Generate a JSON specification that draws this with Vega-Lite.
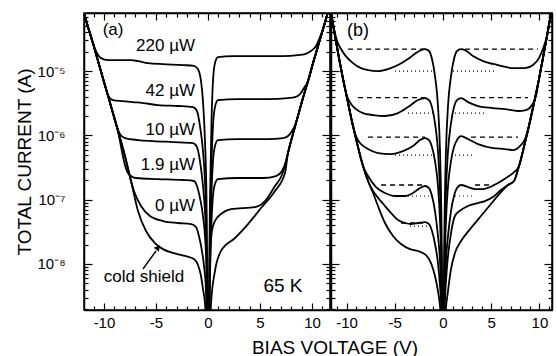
{
 "$schema": "https://vega.github.io/schema/vega-lite/v6.json",
 "background": "white",
 "padding": {"left": 14, "top": 8, "right": 2, "bottom": 2},
 "bounds": "flush",
 "spacing": 1,
 "config": {
  "font": "Liberation Sans",
  "view": {"stroke": "black", "strokeWidth": 1.5},
  "axis": {"grid": false, "domainColor": "black", "domainWidth": 1.5, "tickColor": "black", "tickWidth": 1.2, "labelColor": "black", "labelFont": "Liberation Sans", "labelFontSize": 15, "titleFont": "Liberation Sans", "titleColor": "black", "titleFontSize": 19, "titleFontWeight": "normal", "labelOverlap": false, "labelFlush": false},
  "text": {"font": "Liberation Sans", "color": "black"}
 },
 "datasets": {
  "curvesA": [
   {"s":"220","V":-12.12,"I":1.06e-4},{"s":"220","V":-11.92,"I":7.98e-5},{"s":"220","V":-11.06,"I":2.72e-5},{"s":"220","V":-10.67,"I":1.9e-5},{"s":"220","V":-10.29,"I":1.59e-5},{"s":"220","V":-9.62,"I":1.48e-5},{"s":"220","V":-8.65,"I":1.48e-5},{"s":"220","V":-7.4,"I":1.48e-5},{"s":"220","V":-6.73,"I":1.43e-5},{"s":"220","V":-5.77,"I":1.33e-5},{"s":"220","V":-4.33,"I":1.28e-5},{"s":"220","V":-2.4,"I":1.24e-5},{"s":"220","V":-1.35,"I":1.2e-5},{"s":"220","V":-0.96,"I":1.07e-5},{"s":"220","V":-0.67,"I":6.99e-6},{"s":"220","V":-0.48,"I":3.41e-6},{"s":"220","V":-0.29,"I":8.15e-7},{"s":"220","V":-0.14,"I":9.51e-8},{"s":"220","V":-0.05,"I":9e-10},{"s":"220","V":0.05,"I":9e-10},{"s":"220","V":0.19,"I":9.51e-8},{"s":"220","V":0.34,"I":1.67e-6},{"s":"220","V":0.48,"I":6.99e-6},{"s":"220","V":0.67,"I":1.33e-5},{"s":"220","V":0.96,"I":1.65e-5},{"s":"220","V":2.4,"I":1.71e-5},{"s":"220","V":4.81,"I":1.71e-5},{"s":"220","V":7.21,"I":1.71e-5},{"s":"220","V":8.65,"I":1.77e-5},{"s":"220","V":9.33,"I":1.84e-5},{"s":"220","V":9.9,"I":2.05e-5},{"s":"220","V":10.38,"I":2.45e-5},{"s":"220","V":10.77,"I":3.38e-5},{"s":"220","V":11.15,"I":5.01e-5},{"s":"220","V":11.63,"I":9.21e-5},{"s":"220","V":11.83,"I":1.1e-4},
   {"s":"42","V":-12.12,"I":1.06e-4},{"s":"42","V":-11.92,"I":7.98e-5},{"s":"42","V":-11.06,"I":2.72e-5},{"s":"42","V":-10.19,"I":8.66e-6},{"s":"42","V":-9.9,"I":5.84e-6},{"s":"42","V":-9.62,"I":4.23e-6},{"s":"42","V":-9.13,"I":3.54e-6},{"s":"42","V":-8.17,"I":3.41e-6},{"s":"42","V":-7.21,"I":3.29e-6},{"s":"42","V":-6.25,"I":3.18e-6},{"s":"42","V":-4.81,"I":2.96e-6},{"s":"42","V":-2.88,"I":2.86e-6},{"s":"42","V":-1.44,"I":2.75e-6},{"s":"42","V":-1.06,"I":2.39e-6},{"s":"42","V":-0.77,"I":1.395e-6},{"s":"42","V":-0.48,"I":5.7e-7},{"s":"42","V":-0.29,"I":1.95e-7},{"s":"42","V":-0.14,"I":3.25e-8},{"s":"42","V":-0.05,"I":6e-10},{"s":"42","V":0.05,"I":6e-10},{"s":"42","V":0.19,"I":3.25e-8},{"s":"42","V":0.34,"I":3.98e-7},{"s":"42","V":0.48,"I":1.395e-6},{"s":"42","V":0.67,"I":2.75e-6},{"s":"42","V":0.96,"I":3.54e-6},{"s":"42","V":2.88,"I":3.67e-6},{"s":"42","V":5.77,"I":3.67e-6},{"s":"42","V":7.69,"I":3.8e-6},{"s":"42","V":8.37,"I":3.94e-6},{"s":"42","V":8.85,"I":4.39e-6},{"s":"42","V":9.23,"I":5.44e-6},{"s":"42","V":9.62,"I":6.99e-6},{"s":"42","V":10.1,"I":1.33e-5},{"s":"42","V":10.58,"I":2.45e-5},{"s":"42","V":11.15,"I":5.01e-5},{"s":"42","V":11.63,"I":9.21e-5},{"s":"42","V":11.83,"I":1.1e-4},
   {"s":"10","V":-12.12,"I":1.06e-4},{"s":"10","V":-11.92,"I":7.98e-5},{"s":"10","V":-11.06,"I":2.72e-5},{"s":"10","V":-10.19,"I":8.66e-6},{"s":"10","V":-9.33,"I":2.86e-6},{"s":"10","V":-8.94,"I":1.67e-6},{"s":"10","V":-8.56,"I":1.125e-6},{"s":"10","V":-7.98,"I":9.08e-7},{"s":"10","V":-6.73,"I":8.45e-7},{"s":"10","V":-5.29,"I":8.15e-7},{"s":"10","V":-3.37,"I":7.87e-7},{"s":"10","V":-1.44,"I":7.59e-7},{"s":"10","V":-1.06,"I":6.58e-7},{"s":"10","V":-0.77,"I":3.98e-7},{"s":"10","V":-0.48,"I":1.63e-7},{"s":"10","V":-0.29,"I":6.65e-8},{"s":"10","V":-0.14,"I":1.59e-8},{"s":"10","V":-0.05,"I":5e-10},{"s":"10","V":0.05,"I":5e-10},{"s":"10","V":0.19,"I":1.59e-8},{"s":"10","V":0.34,"I":1.36e-7},{"s":"10","V":0.48,"I":3.98e-7},{"s":"10","V":0.67,"I":6.82e-7},{"s":"10","V":0.96,"I":8.45e-7},{"s":"10","V":2.88,"I":8.76e-7},{"s":"10","V":5.77,"I":8.76e-7},{"s":"10","V":7.21,"I":9.08e-7},{"s":"10","V":7.69,"I":9.75e-7},{"s":"10","V":8.08,"I":1.17e-6},{"s":"10","V":8.37,"I":1.445e-6},{"s":"10","V":8.65,"I":2e-6},{"s":"10","V":9.13,"I":3.8e-6},{"s":"10","V":9.62,"I":6.99e-6},{"s":"10","V":10.1,"I":1.33e-5},{"s":"10","V":10.58,"I":2.45e-5},{"s":"10","V":11.15,"I":5.01e-5},{"s":"10","V":11.63,"I":9.21e-5},{"s":"10","V":11.83,"I":1.1e-4},
   {"s":"1.9","V":-12.12,"I":1.06e-4},{"s":"1.9","V":-11.92,"I":7.98e-5},{"s":"1.9","V":-11.06,"I":2.72e-5},{"s":"1.9","V":-10.19,"I":8.66e-6},{"s":"1.9","V":-9.33,"I":2.86e-6},{"s":"1.9","V":-8.65,"I":1.17e-6},{"s":"1.9","V":-8.37,"I":6.82e-7},{"s":"1.9","V":-8.08,"I":3.98e-7},{"s":"1.9","V":-7.69,"I":2.59e-7},{"s":"1.9","V":-6.92,"I":2.17e-7},{"s":"1.9","V":-4.81,"I":2.09e-7},{"s":"1.9","V":-2.4,"I":2.02e-7},{"s":"1.9","V":-1.35,"I":1.95e-7},{"s":"1.9","V":-1.06,"I":1.63e-7},{"s":"1.9","V":-0.77,"I":1.06e-7},{"s":"1.9","V":-0.48,"I":5.56e-8},{"s":"1.9","V":-0.29,"I":2.72e-8},{"s":"1.9","V":-0.14,"I":7.75e-9},{"s":"1.9","V":-0.05,"I":5e-10},{"s":"1.9","V":0.05,"I":5e-10},{"s":"1.9","V":0.19,"I":7.75e-9},{"s":"1.9","V":0.34,"I":4.65e-8},{"s":"1.9","V":0.48,"I":1.14e-7},{"s":"1.9","V":0.67,"I":1.75e-7},{"s":"1.9","V":0.96,"I":2.09e-7},{"s":"1.9","V":2.88,"I":2.17e-7},{"s":"1.9","V":5.29,"I":2.17e-7},{"s":"1.9","V":6.54,"I":2.33e-7},{"s":"1.9","V":7.12,"I":2.78e-7},{"s":"1.9","V":7.5,"I":3.98e-7},{"s":"1.9","V":7.69,"I":5.31e-7},{"s":"1.9","V":8.17,"I":1.05e-6},{"s":"1.9","V":8.65,"I":2e-6},{"s":"1.9","V":9.13,"I":3.8e-6},{"s":"1.9","V":9.62,"I":6.99e-6},{"s":"1.9","V":10.1,"I":1.33e-5},{"s":"1.9","V":10.58,"I":2.45e-5},{"s":"1.9","V":11.15,"I":5.01e-5},{"s":"1.9","V":11.63,"I":9.21e-5},{"s":"1.9","V":11.83,"I":1.1e-4},
   {"s":"0","V":-12.12,"I":1.06e-4},{"s":"0","V":-11.92,"I":7.98e-5},{"s":"0","V":-11.06,"I":2.72e-5},{"s":"0","V":-10.19,"I":8.66e-6},{"s":"0","V":-9.33,"I":2.86e-6},{"s":"0","V":-8.65,"I":1.17e-6},{"s":"0","V":-7.98,"I":4.76e-7},{"s":"0","V":-7.6,"I":2.59e-7},{"s":"0","V":-7.12,"I":1.36e-7},{"s":"0","V":-6.44,"I":7.95e-8},{"s":"0","V":-5.58,"I":5.56e-8},{"s":"0","V":-4.33,"I":4.65e-8},{"s":"0","V":-2.88,"I":4.33e-8},{"s":"0","V":-1.63,"I":4.17e-8},{"s":"0","V":-1.15,"I":3.75e-8},{"s":"0","V":-0.87,"I":2.72e-8},{"s":"0","V":-0.58,"I":1.59e-8},{"s":"0","V":-0.38,"I":9.28e-9},{"s":"0","V":-0.19,"I":3.79e-9},{"s":"0","V":-0.05,"I":4e-10},{"s":"0","V":0.05,"I":4e-10},{"s":"0","V":0.14,"I":2.65e-9},{"s":"0","V":0.24,"I":1.59e-8},{"s":"0","V":0.38,"I":3.25e-8},{"s":"0","V":0.67,"I":4.65e-8},{"s":"0","V":1.25,"I":5.97e-8},{"s":"0","V":2.21,"I":7.14e-8},{"s":"0","V":4.52,"I":7.67e-8},{"s":"0","V":5.48,"I":9.51e-8},{"s":"0","V":6.44,"I":1.63e-7},{"s":"0","V":7.02,"I":2.25e-7},{"s":"0","V":7.31,"I":2.99e-7},{"s":"0","V":7.69,"I":5.31e-7},{"s":"0","V":8.17,"I":1.05e-6},{"s":"0","V":8.65,"I":2e-6},{"s":"0","V":9.13,"I":3.8e-6},{"s":"0","V":9.62,"I":6.99e-6},{"s":"0","V":10.1,"I":1.33e-5},{"s":"0","V":10.58,"I":2.45e-5},{"s":"0","V":11.15,"I":5.01e-5},{"s":"0","V":11.63,"I":9.21e-5},{"s":"0","V":11.83,"I":1.1e-4},
   {"s":"cold","V":-12.12,"I":1.06e-4},{"s":"cold","V":-11.92,"I":7.98e-5},{"s":"cold","V":-11.06,"I":2.72e-5},{"s":"cold","V":-10.19,"I":8.66e-6},{"s":"cold","V":-9.33,"I":2.86e-6},{"s":"cold","V":-8.65,"I":1.17e-6},{"s":"cold","V":-7.98,"I":4.76e-7},{"s":"cold","V":-7.4,"I":1.95e-7},{"s":"cold","V":-6.73,"I":6.65e-8},{"s":"cold","V":-5.96,"I":3.25e-8},{"s":"cold","V":-5.1,"I":2.11e-8},{"s":"cold","V":-4.33,"I":1.7e-8},{"s":"cold","V":-3.37,"I":1.48e-8},{"s":"cold","V":-2.21,"I":1.33e-8},{"s":"cold","V":-1.35,"I":1.19e-8},{"s":"cold","V":-0.96,"I":9.61e-9},{"s":"cold","V":-0.67,"I":6.48e-9},{"s":"cold","V":-0.48,"I":4.07e-9},{"s":"cold","V":-0.29,"I":2.46e-9},{"s":"cold","V":-0.14,"I":9.1e-10},{"s":"cold","V":-0.05,"I":3e-10},{"s":"cold","V":0.05,"I":3e-10},{"s":"cold","V":0.29,"I":2.38e-9},{"s":"cold","V":0.67,"I":7.75e-9},{"s":"cold","V":1.25,"I":1.59e-8},{"s":"cold","V":2.6,"I":2.53e-8},{"s":"cold","V":3.85,"I":4.17e-8},{"s":"cold","V":5.1,"I":7.4e-8},{"s":"cold","V":6.44,"I":1.36e-7},{"s":"cold","V":7.4,"I":2.59e-7},{"s":"cold","V":7.69,"I":5.31e-7},{"s":"cold","V":8.17,"I":1.05e-6},{"s":"cold","V":8.65,"I":2e-6},{"s":"cold","V":9.13,"I":3.8e-6},{"s":"cold","V":9.62,"I":6.99e-6},{"s":"cold","V":10.1,"I":1.33e-5},{"s":"cold","V":10.58,"I":2.45e-5},{"s":"cold","V":11.15,"I":5.01e-5},{"s":"cold","V":11.63,"I":9.21e-5},{"s":"cold","V":11.83,"I":1.1e-4}
  ],
  "curvesB": [
   {"s":"220","V":-11.81,"I":1.06e-4},{"s":"220","V":-11.61,"I":7.98e-5},{"s":"220","V":-11.3,"I":4.5e-5},{"s":"220","V":-10.98,"I":2.93e-5},{"s":"220","V":-10.57,"I":2.2e-5},{"s":"220","V":-10.16,"I":1.77e-5},{"s":"220","V":-9.33,"I":1.33e-5},{"s":"220","V":-8.5,"I":1.11e-5},{"s":"220","V":-7.77,"I":1.036e-5},{"s":"220","V":-6.74,"I":1e-5},{"s":"220","V":-5.7,"I":1.074e-5},{"s":"220","V":-4.66,"I":1.24e-5},{"s":"220","V":-3.63,"I":1.54e-5},{"s":"220","V":-2.8,"I":1.905e-5},{"s":"220","V":-2.28,"I":2.12e-5},{"s":"220","V":-1.87,"I":2.2e-5},{"s":"220","V":-1.45,"I":2.05e-5},{"s":"220","V":-1.14,"I":1.54e-5},{"s":"220","V":-0.83,"I":8.36e-6},{"s":"220","V":-0.52,"I":2.86e-6},{"s":"220","V":-0.31,"I":5.7e-7},{"s":"220","V":-0.16,"I":4.65e-8},{"s":"220","V":-0.05,"I":9e-10},{"s":"220","V":0.05,"I":9e-10},{"s":"220","V":0.16,"I":4.65e-8},{"s":"220","V":0.31,"I":5.7e-7},{"s":"220","V":0.52,"I":2.86e-6},{"s":"220","V":0.83,"I":8.36e-6},{"s":"220","V":1.14,"I":1.54e-5},{"s":"220","V":1.45,"I":2.05e-5},{"s":"220","V":1.87,"I":2.2e-5},{"s":"220","V":2.28,"I":2.12e-5},{"s":"220","V":3.11,"I":1.71e-5},{"s":"220","V":4.15,"I":1.43e-5},{"s":"220","V":5.7,"I":1.24e-5},{"s":"220","V":7.25,"I":1.11e-5},{"s":"220","V":8.5,"I":1.11e-5},{"s":"220","V":9.33,"I":1.24e-5},{"s":"220","V":9.95,"I":1.59e-5},{"s":"220","V":10.47,"I":2.45e-5},{"s":"220","V":10.78,"I":3.5e-5},{"s":"220","V":11.19,"I":7.43e-5},{"s":"220","V":11.4,"I":9.21e-5},{"s":"220","V":11.61,"I":1.06e-4},
   {"s":"42","V":-11.81,"I":1.06e-4},{"s":"42","V":-11.61,"I":7.98e-5},{"s":"42","V":-11.19,"I":3.5e-5},{"s":"42","V":-10.78,"I":1.59e-5},{"s":"42","V":-10.36,"I":7.51e-6},{"s":"42","V":-9.95,"I":4.08e-6},{"s":"42","V":-9.53,"I":3.07e-6},{"s":"42","V":-9.02,"I":2.56e-6},{"s":"42","V":-8.29,"I":2.22e-6},{"s":"42","V":-7.25,"I":2.07e-6},{"s":"42","V":-6.01,"I":2e-6},{"s":"42","V":-4.66,"I":2.22e-6},{"s":"42","V":-3.63,"I":2.75e-6},{"s":"42","V":-2.59,"I":3.54e-6},{"s":"42","V":-1.87,"I":3.8e-6},{"s":"42","V":-1.45,"I":3.54e-6},{"s":"42","V":-1.14,"I":2.75e-6},{"s":"42","V":-0.83,"I":1.55e-6},{"s":"42","V":-0.52,"I":5.7e-7},{"s":"42","V":-0.31,"I":1.36e-7},{"s":"42","V":-0.16,"I":1.59e-8},{"s":"42","V":-0.05,"I":6e-10},{"s":"42","V":0.05,"I":6e-10},{"s":"42","V":0.16,"I":1.59e-8},{"s":"42","V":0.31,"I":1.36e-7},{"s":"42","V":0.52,"I":5.7e-7},{"s":"42","V":0.83,"I":1.55e-6},{"s":"42","V":1.14,"I":2.75e-6},{"s":"42","V":1.45,"I":3.54e-6},{"s":"42","V":1.87,"I":3.8e-6},{"s":"42","V":2.59,"I":3.29e-6},{"s":"42","V":3.63,"I":2.86e-6},{"s":"42","V":5.18,"I":2.66e-6},{"s":"42","V":6.42,"I":2.56e-6},{"s":"42","V":7.77,"I":2.39e-6},{"s":"42","V":8.6,"I":2.47e-6},{"s":"42","V":9.22,"I":2.96e-6},{"s":"42","V":9.64,"I":4.08e-6},{"s":"42","V":9.95,"I":7.51e-6},{"s":"42","V":10.36,"I":1.59e-5},{"s":"42","V":10.78,"I":3.5e-5},{"s":"42","V":11.19,"I":7.43e-5},{"s":"42","V":11.4,"I":9.21e-5},{"s":"42","V":11.61,"I":1.06e-4},
   {"s":"10","V":-11.81,"I":1.06e-4},{"s":"10","V":-11.61,"I":7.98e-5},{"s":"10","V":-11.19,"I":3.5e-5},{"s":"10","V":-10.78,"I":1.59e-5},{"s":"10","V":-10.36,"I":7.51e-6},{"s":"10","V":-9.84,"I":3.18e-6},{"s":"10","V":-9.33,"I":1.395e-6},{"s":"10","V":-9.02,"I":9.75e-7},{"s":"10","V":-8.6,"I":7.59e-7},{"s":"10","V":-7.77,"I":6.12e-7},{"s":"10","V":-6.74,"I":5.31e-7},{"s":"10","V":-5.39,"I":5.12e-7},{"s":"10","V":-4.15,"I":5.7e-7},{"s":"10","V":-3.11,"I":6.82e-7},{"s":"10","V":-2.38,"I":8.45e-7},{"s":"10","V":-1.87,"I":9.08e-7},{"s":"10","V":-1.45,"I":8.45e-7},{"s":"10","V":-1.14,"I":6.58e-7},{"s":"10","V":-0.83,"I":3.98e-7},{"s":"10","V":-0.52,"I":1.63e-7},{"s":"10","V":-0.31,"I":4.65e-8},{"s":"10","V":-0.16,"I":7.75e-9},{"s":"10","V":-0.05,"I":5e-10},{"s":"10","V":0.05,"I":5e-10},{"s":"10","V":0.16,"I":7.75e-9},{"s":"10","V":0.31,"I":4.65e-8},{"s":"10","V":0.52,"I":1.63e-7},{"s":"10","V":0.83,"I":3.98e-7},{"s":"10","V":1.14,"I":6.58e-7},{"s":"10","V":1.45,"I":8.45e-7},{"s":"10","V":1.87,"I":9.75e-7},{"s":"10","V":2.59,"I":8.76e-7},{"s":"10","V":3.63,"I":7.32e-7},{"s":"10","V":5.18,"I":6.34e-7},{"s":"10","V":6.42,"I":6.12e-7},{"s":"10","V":7.25,"I":5.91e-7},{"s":"10","V":7.98,"I":6.82e-7},{"s":"10","V":8.5,"I":8.76e-7},{"s":"10","V":8.91,"I":1.395e-6},{"s":"10","V":9.43,"I":3.18e-6},{"s":"10","V":9.95,"I":7.51e-6},{"s":"10","V":10.36,"I":1.59e-5},{"s":"10","V":10.78,"I":3.5e-5},{"s":"10","V":11.19,"I":7.43e-5},{"s":"10","V":11.4,"I":9.21e-5},{"s":"10","V":11.61,"I":1.06e-4},
   {"s":"1.9","V":-11.81,"I":1.06e-4},{"s":"1.9","V":-11.61,"I":7.98e-5},{"s":"1.9","V":-11.19,"I":3.5e-5},{"s":"1.9","V":-10.78,"I":1.59e-5},{"s":"1.9","V":-10.36,"I":7.51e-6},{"s":"1.9","V":-9.84,"I":3.18e-6},{"s":"1.9","V":-9.33,"I":1.395e-6},{"s":"1.9","V":-8.81,"I":6.58e-7},{"s":"1.9","V":-8.29,"I":3.33e-7},{"s":"1.9","V":-7.77,"I":2.33e-7},{"s":"1.9","V":-6.94,"I":1.57e-7},{"s":"1.9","V":-6.01,"I":1.27e-7},{"s":"1.9","V":-4.97,"I":1.14e-7},{"s":"1.9","V":-3.94,"I":1.14e-7},{"s":"1.9","V":-3.11,"I":1.27e-7},{"s":"1.9","V":-2.38,"I":1.515e-7},{"s":"1.9","V":-1.87,"I":1.63e-7},{"s":"1.9","V":-1.45,"I":1.515e-7},{"s":"1.9","V":-1.14,"I":1.14e-7},{"s":"1.9","V":-0.83,"I":6.65e-8},{"s":"1.9","V":-0.52,"I":2.72e-8},{"s":"1.9","V":-0.31,"I":1.11e-8},{"s":"1.9","V":-0.16,"I":2.65e-9},{"s":"1.9","V":-0.05,"I":4e-10},{"s":"1.9","V":0.05,"I":4e-10},{"s":"1.9","V":0.16,"I":2.65e-9},{"s":"1.9","V":0.31,"I":1.11e-8},{"s":"1.9","V":0.52,"I":2.72e-8},{"s":"1.9","V":0.83,"I":6.65e-8},{"s":"1.9","V":1.14,"I":1.14e-7},{"s":"1.9","V":1.45,"I":1.515e-7},{"s":"1.9","V":1.87,"I":1.69e-7},{"s":"1.9","V":2.59,"I":1.57e-7},{"s":"1.9","V":3.32,"I":1.46e-7},{"s":"1.9","V":4.15,"I":1.46e-7},{"s":"1.9","V":4.87,"I":1.57e-7},{"s":"1.9","V":5.7,"I":1.81e-7},{"s":"1.9","V":6.53,"I":2.17e-7},{"s":"1.9","V":7.25,"I":2.59e-7},{"s":"1.9","V":7.88,"I":3.33e-7},{"s":"1.9","V":8.39,"I":6.58e-7},{"s":"1.9","V":8.91,"I":1.395e-6},{"s":"1.9","V":9.43,"I":3.18e-6},{"s":"1.9","V":9.95,"I":7.51e-6},{"s":"1.9","V":10.36,"I":1.59e-5},{"s":"1.9","V":10.78,"I":3.5e-5},{"s":"1.9","V":11.19,"I":7.43e-5},{"s":"1.9","V":11.4,"I":9.21e-5},{"s":"1.9","V":11.61,"I":1.06e-4},
   {"s":"0","V":-11.81,"I":1.06e-4},{"s":"0","V":-11.61,"I":7.98e-5},{"s":"0","V":-11.19,"I":3.5e-5},{"s":"0","V":-10.78,"I":1.59e-5},{"s":"0","V":-10.36,"I":7.51e-6},{"s":"0","V":-9.84,"I":3.18e-6},{"s":"0","V":-9.33,"I":1.395e-6},{"s":"0","V":-8.81,"I":6.58e-7},{"s":"0","V":-8.29,"I":3.33e-7},{"s":"0","V":-7.77,"I":1.95e-7},{"s":"0","V":-7.25,"I":1.36e-7},{"s":"0","V":-6.63,"I":1.02e-7},{"s":"0","V":-6.01,"I":7.95e-8},{"s":"0","V":-5.28,"I":5.97e-8},{"s":"0","V":-4.66,"I":4.82e-8},{"s":"0","V":-3.94,"I":4.33e-8},{"s":"0","V":-3.32,"I":4.17e-8},{"s":"0","V":-2.59,"I":4.33e-8},{"s":"0","V":-1.87,"I":4.48e-8},{"s":"0","V":-1.45,"I":4.17e-8},{"s":"0","V":-1.14,"I":3.25e-8},{"s":"0","V":-0.83,"I":2.04e-8},{"s":"0","V":-0.52,"I":1.03e-8},{"s":"0","V":-0.31,"I":4.53e-9},{"s":"0","V":-0.16,"I":1.85e-9},{"s":"0","V":-0.05,"I":3e-10},{"s":"0","V":0.05,"I":3e-10},{"s":"0","V":0.16,"I":1.85e-9},{"s":"0","V":0.31,"I":5.42e-9},{"s":"0","V":0.52,"I":1.33e-8},{"s":"0","V":0.83,"I":3.02e-8},{"s":"0","V":1.24,"I":5.56e-8},{"s":"0","V":1.87,"I":6.89e-8},{"s":"0","V":2.59,"I":7.95e-8},{"s":"0","V":3.63,"I":8.85e-8},{"s":"0","V":4.35,"I":9.51e-8},{"s":"0","V":5.18,"I":1.1e-7},{"s":"0","V":6.01,"I":1.41e-7},{"s":"0","V":6.74,"I":1.69e-7},{"s":"0","V":7.36,"I":1.95e-7},{"s":"0","V":7.88,"I":3.33e-7},{"s":"0","V":8.39,"I":6.58e-7},{"s":"0","V":8.91,"I":1.395e-6},{"s":"0","V":9.43,"I":3.18e-6},{"s":"0","V":9.95,"I":7.51e-6},{"s":"0","V":10.36,"I":1.59e-5},{"s":"0","V":10.78,"I":3.5e-5},{"s":"0","V":11.19,"I":7.43e-5},{"s":"0","V":11.4,"I":9.21e-5},{"s":"0","V":11.61,"I":1.06e-4},
   {"s":"cold","V":-11.81,"I":1.06e-4},{"s":"cold","V":-11.61,"I":7.98e-5},{"s":"cold","V":-11.19,"I":3.5e-5},{"s":"cold","V":-10.78,"I":1.59e-5},{"s":"cold","V":-10.36,"I":7.51e-6},{"s":"cold","V":-9.84,"I":3.18e-6},{"s":"cold","V":-9.33,"I":1.395e-6},{"s":"cold","V":-8.81,"I":6.58e-7},{"s":"cold","V":-8.29,"I":3.33e-7},{"s":"cold","V":-7.77,"I":1.95e-7},{"s":"cold","V":-7.25,"I":1.27e-7},{"s":"cold","V":-6.74,"I":7.95e-8},{"s":"cold","V":-6.01,"I":4.33e-8},{"s":"cold","V":-5.18,"I":2.72e-8},{"s":"cold","V":-4.35,"I":2.04e-8},{"s":"cold","V":-3.42,"I":1.7e-8},{"s":"cold","V":-2.59,"I":1.59e-8},{"s":"cold","V":-1.76,"I":1.375e-8},{"s":"cold","V":-1.24,"I":1.03e-8},{"s":"cold","V":-0.83,"I":6.48e-9},{"s":"cold","V":-0.52,"I":3.79e-9},{"s":"cold","V":-0.31,"I":2.21e-9},{"s":"cold","V":-0.16,"I":1.08e-9},{"s":"cold","V":-0.05,"I":3e-10},{"s":"cold","V":0.05,"I":3e-10},{"s":"cold","V":0.21,"I":1.29e-9},{"s":"cold","V":0.52,"I":3.79e-9},{"s":"cold","V":0.83,"I":8.33e-9},{"s":"cold","V":1.24,"I":1.48e-8},{"s":"cold","V":1.87,"I":2.27e-8},{"s":"cold","V":2.9,"I":3.62e-8},{"s":"cold","V":3.94,"I":5.56e-8},{"s":"cold","V":4.97,"I":8.54e-8},{"s":"cold","V":6.01,"I":1.31e-7},{"s":"cold","V":6.74,"I":1.69e-7},{"s":"cold","V":7.36,"I":1.95e-7},{"s":"cold","V":7.88,"I":3.33e-7},{"s":"cold","V":8.39,"I":6.58e-7},{"s":"cold","V":8.91,"I":1.395e-6},{"s":"cold","V":9.43,"I":3.18e-6},{"s":"cold","V":9.95,"I":7.51e-6},{"s":"cold","V":10.36,"I":1.59e-5},{"s":"cold","V":10.78,"I":3.5e-5},{"s":"cold","V":11.19,"I":7.43e-5},{"s":"cold","V":11.4,"I":9.21e-5},{"s":"cold","V":11.61,"I":1.06e-4}
  ],
  "dashB": [
   {"g":"a","V":-9.84,"I":2.2e-5},{"g":"a","V":-1.87,"I":2.2e-5},
   {"g":"b","V":2.28,"I":2.2e-5},{"g":"b","V":9.84,"I":2.2e-5},
   {"g":"c","V":-8.81,"I":3.87e-6},{"g":"c","V":-1.87,"I":3.87e-6},
   {"g":"d","V":2.9,"I":3.87e-6},{"g":"d","V":8.81,"I":3.87e-6},
   {"g":"e","V":-7.77,"I":9.41e-7},{"g":"e","V":-1.87,"I":9.41e-7},
   {"g":"f","V":2.9,"I":9.41e-7},{"g":"f","V":7.77,"I":9.41e-7},
   {"g":"g","V":-6.42,"I":1.69e-7},{"g":"g","V":-1.87,"I":1.69e-7},
   {"g":"h","V":3.32,"I":1.69e-7},{"g":"h","V":5.39,"I":1.69e-7},
   {"g":"i","V":-4.35,"I":4.33e-8},{"g":"i","V":-2.07,"I":4.33e-8}
  ],
  "dotB": [
   {"g":"a","V":-4.97,"I":1e-5},{"g":"a","V":-0.83,"I":1e-5},
   {"g":"b","V":1.04,"I":1e-5},{"g":"b","V":5.39,"I":1e-5},
   {"g":"c","V":-3.63,"I":2.22e-6},{"g":"c","V":-0.83,"I":2.22e-6},
   {"g":"d","V":1.24,"I":2.22e-6},{"g":"d","V":4.35,"I":2.22e-6},
   {"g":"e","V":-4.97,"I":4.94e-7},{"g":"e","V":-0.83,"I":4.94e-7},
   {"g":"f","V":1.24,"I":4.94e-7},{"g":"f","V":3.32,"I":4.94e-7},
   {"g":"g","V":-3.63,"I":1.14e-7},{"g":"g","V":-1.24,"I":1.14e-7},
   {"g":"h","V":1.24,"I":1.14e-7},{"g":"h","V":3.32,"I":1.14e-7},
   {"g":"i","V":-3.42,"I":3.88e-8},{"g":"i","V":-1.55,"I":3.88e-8}
  ],
  "powersA": [
   {"t":"220 µW","V":-1.25,"I":2.45e-5},
   {"t":"42 µW","V":-1.25,"I":4.89e-6},
   {"t":"10 µW","V":-1.25,"I":1.21e-6},
   {"t":"1.9 µW","V":-1.25,"I":3.45e-7},
   {"t":"0 µW","V":-1.25,"I":7.95e-8}
  ],
  "notesA": [
   {"t":"(a)","V":-9.13,"I":4.34e-5},
   {"t":"cold shield","V":-6.15,"I":6.25e-9}
  ],
  "tempA": [{"t":"65 K","V":7.21,"I":4.53e-9}],
  "arrowA": [{"V":-6.25,"I":8.33e-9,"V2":-5.0,"I2":1.59e-8}],
  "headA": [{"V":-4.8,"I":1.8e-8}],
  "notesB": [{"t":"(b)","V":-8.81,"I":4.19e-5}]
 },
 "hconcat": [
  {
   "width": 246, "height": 297,
   "layer": [
    {
     "data": {"name": "curvesA"},
     "mark": {"type": "line", "color": "black", "strokeWidth": 1.8, "clip": true, "interpolate": "monotone"},
     "encoding": {
      "x": {"field": "V", "type": "quantitative", "scale": {"domain": [-11.92, 11.73], "nice": false, "zero": false},
       "axis": {"orient": "bottom", "values": [-11,-10,-9,-8,-7,-6,-5,-4,-3,-2,-1,0,1,2,3,4,5,6,7,8,9,10,11], "labelExpr": "datum.value % 5 == 0 ? datum.value : ''", "tickSize": {"condition": {"test": "datum.value % 5 == 0", "value": -7}, "value": -4}, "labelPadding": 12, "title": "BIAS VOLTAGE (V)", "titleX": 250.5, "titleY": 43, "titleBaseline": "alphabetic", "titleAlign": "center"}},
      "y": {"field": "I", "type": "quantitative", "scale": {"type": "log", "domain": [1.92e-9, 8e-5], "nice": false},
       "axis": {"orient": "left", "values": [2e-9,3e-9,4e-9,5e-9,6e-9,7e-9,8e-9,9e-9,1e-8,2e-8,3e-8,4e-8,5e-8,6e-8,7e-8,8e-8,9e-8,1e-7,2e-7,3e-7,4e-7,5e-7,6e-7,7e-7,8e-7,9e-7,1e-6,2e-6,3e-6,4e-6,5e-6,6e-6,7e-6,8e-6,9e-6,1e-5,2e-5,3e-5,4e-5,5e-5,6e-5,7e-5],
        "labelExpr": "abs(datum.value/1e-5-1)<0.01 ? '10⁻⁵' : abs(datum.value/1e-6-1)<0.01 ? '10⁻⁶' : abs(datum.value/1e-7-1)<0.01 ? '10⁻⁷' : abs(datum.value/1e-8-1)<0.01 ? '10⁻⁸' : ''",
        "tickSize": {"condition": {"test": "abs(log(datum.value)/LN10 - round(log(datum.value)/LN10)) < 0.001", "value": -8}, "value": -4},
        "labelPadding": 27, "labelFontSize": 15,
        "title": "TOTAL CURRENT (A)", "titleX": -54, "titleY": 148.5, "titleAngle": 270, "titleBaseline": "alphabetic", "titleAlign": "center"}},
      "detail": {"field": "s"}
     }
    },
    {
     "data": {"name": "powersA"},
     "mark": {"type": "text", "align": "right", "baseline": "middle", "fontSize": 17},
     "encoding": {
      "x": {"field": "V", "type": "quantitative", "scale": {"domain": [-11.92, 11.73], "nice": false, "zero": false},
       "axis": {"orient": "top", "labels": false, "title": null, "values": [-11,-10,-9,-8,-7,-6,-5,-4,-3,-2,-1,0,1,2,3,4,5,6,7,8,9,10,11], "tickSize": {"condition": {"test": "datum.value % 5 == 0", "value": -7}, "value": -4}}},
      "y": {"field": "I", "type": "quantitative", "scale": {"type": "log", "domain": [1.92e-9, 8e-5], "nice": false},
       "axis": {"orient": "right", "labels": false, "title": null, "values": [2e-9,3e-9,4e-9,5e-9,6e-9,7e-9,8e-9,9e-9,1e-8,2e-8,3e-8,4e-8,5e-8,6e-8,7e-8,8e-8,9e-8,1e-7,2e-7,3e-7,4e-7,5e-7,6e-7,7e-7,8e-7,9e-7,1e-6,2e-6,3e-6,4e-6,5e-6,6e-6,7e-6,8e-6,9e-6,1e-5,2e-5,3e-5,4e-5,5e-5,6e-5,7e-5],
        "tickSize": {"condition": {"test": "abs(log(datum.value)/LN10 - round(log(datum.value)/LN10)) < 0.001", "value": -8}, "value": -4}}},
      "text": {"field": "t"}
     }
    },
    {
     "data": {"name": "notesA"},
     "mark": {"type": "text", "align": "center", "baseline": "middle", "fontSize": 17},
     "encoding": {
      "x": {"field": "V", "type": "quantitative", "scale": {"domain": [-11.92, 11.73], "nice": false, "zero": false}, "axis": null},
      "y": {"field": "I", "type": "quantitative", "scale": {"type": "log", "domain": [1.92e-9, 8e-5], "nice": false}, "axis": null},
      "text": {"field": "t"}
     }
    },
    {
     "data": {"name": "tempA"},
     "mark": {"type": "text", "align": "center", "baseline": "middle", "fontSize": 19},
     "encoding": {
      "x": {"field": "V", "type": "quantitative", "scale": {"domain": [-11.92, 11.73], "nice": false, "zero": false}, "axis": null},
      "y": {"field": "I", "type": "quantitative", "scale": {"type": "log", "domain": [1.92e-9, 8e-5], "nice": false}, "axis": null},
      "text": {"field": "t"}
     }
    },
    {
     "data": {"name": "arrowA"},
     "mark": {"type": "rule", "color": "black", "strokeWidth": 1.4},
     "encoding": {
      "x": {"field": "V", "type": "quantitative", "scale": {"domain": [-11.92, 11.73], "nice": false, "zero": false}, "axis": null},
      "y": {"field": "I", "type": "quantitative", "scale": {"type": "log", "domain": [1.92e-9, 8e-5], "nice": false}, "axis": null},
      "x2": {"field": "V2"},
      "y2": {"field": "I2"}
     }
    },
    {
     "data": {"name": "headA"},
     "mark": {"type": "point", "shape": "triangle-up", "angle": 37, "size": 45, "filled": true, "color": "black", "opacity": 1},
     "encoding": {
      "x": {"field": "V", "type": "quantitative", "scale": {"domain": [-11.92, 11.73], "nice": false, "zero": false}, "axis": null},
      "y": {"field": "I", "type": "quantitative", "scale": {"type": "log", "domain": [1.92e-9, 8e-5], "nice": false}, "axis": null}
     }
    }
   ]
  },
  {
   "width": 221, "height": 297,
   "layer": [
    {
     "data": {"name": "curvesB"},
     "mark": {"type": "line", "color": "black", "strokeWidth": 1.8, "clip": true, "interpolate": "monotone"},
     "encoding": {
      "x": {"field": "V", "type": "quantitative", "scale": {"domain": [-11.61, 11.3], "nice": false, "zero": false},
       "axis": {"orient": "bottom", "values": [-11,-10,-9,-8,-7,-6,-5,-4,-3,-2,-1,0,1,2,3,4,5,6,7,8,9,10,11], "labelExpr": "datum.value % 5 == 0 ? datum.value : ''", "tickSize": {"condition": {"test": "datum.value % 5 == 0", "value": -7}, "value": -4}, "labelPadding": 12, "title": null}},
      "y": {"field": "I", "type": "quantitative", "scale": {"type": "log", "domain": [1.92e-9, 8e-5], "nice": false},
       "axis": {"orient": "left", "labels": false, "title": null, "values": [2e-9,3e-9,4e-9,5e-9,6e-9,7e-9,8e-9,9e-9,1e-8,2e-8,3e-8,4e-8,5e-8,6e-8,7e-8,8e-8,9e-8,1e-7,2e-7,3e-7,4e-7,5e-7,6e-7,7e-7,8e-7,9e-7,1e-6,2e-6,3e-6,4e-6,5e-6,6e-6,7e-6,8e-6,9e-6,1e-5,2e-5,3e-5,4e-5,5e-5,6e-5,7e-5],
        "tickSize": {"condition": {"test": "abs(log(datum.value)/LN10 - round(log(datum.value)/LN10)) < 0.001", "value": -8}, "value": -4}}},
      "detail": {"field": "s"}
     }
    },
    {
     "data": {"name": "dashB"},
     "mark": {"type": "line", "color": "black", "strokeWidth": 1.3, "strokeDash": [5, 4], "clip": true},
     "encoding": {
      "x": {"field": "V", "type": "quantitative", "scale": {"domain": [-11.61, 11.3], "nice": false, "zero": false},
       "axis": {"orient": "top", "labels": false, "title": null, "values": [-11,-10,-9,-8,-7,-6,-5,-4,-3,-2,-1,0,1,2,3,4,5,6,7,8,9,10,11], "tickSize": {"condition": {"test": "datum.value % 5 == 0", "value": -7}, "value": -4}}},
      "y": {"field": "I", "type": "quantitative", "scale": {"type": "log", "domain": [1.92e-9, 8e-5], "nice": false},
       "axis": {"orient": "right", "labels": false, "title": null, "values": [2e-9,3e-9,4e-9,5e-9,6e-9,7e-9,8e-9,9e-9,1e-8,2e-8,3e-8,4e-8,5e-8,6e-8,7e-8,8e-8,9e-8,1e-7,2e-7,3e-7,4e-7,5e-7,6e-7,7e-7,8e-7,9e-7,1e-6,2e-6,3e-6,4e-6,5e-6,6e-6,7e-6,8e-6,9e-6,1e-5,2e-5,3e-5,4e-5,5e-5,6e-5,7e-5],
        "tickSize": {"condition": {"test": "abs(log(datum.value)/LN10 - round(log(datum.value)/LN10)) < 0.001", "value": -8}, "value": -4}}},
      "detail": {"field": "g"}
     }
    },
    {
     "data": {"name": "dotB"},
     "mark": {"type": "line", "color": "black", "strokeWidth": 1.2, "strokeDash": [1, 3], "clip": true},
     "encoding": {
      "x": {"field": "V", "type": "quantitative", "scale": {"domain": [-11.61, 11.3], "nice": false, "zero": false}, "axis": null},
      "y": {"field": "I", "type": "quantitative", "scale": {"type": "log", "domain": [1.92e-9, 8e-5], "nice": false}, "axis": null},
      "detail": {"field": "g"}
     }
    },
    {
     "data": {"name": "notesB"},
     "mark": {"type": "text", "align": "center", "baseline": "middle", "fontSize": 18},
     "encoding": {
      "x": {"field": "V", "type": "quantitative", "scale": {"domain": [-11.61, 11.3], "nice": false, "zero": false}, "axis": null},
      "y": {"field": "I", "type": "quantitative", "scale": {"type": "log", "domain": [1.92e-9, 8e-5], "nice": false}, "axis": null},
      "text": {"field": "t"}
     }
    }
   ]
  }
 ]
}
